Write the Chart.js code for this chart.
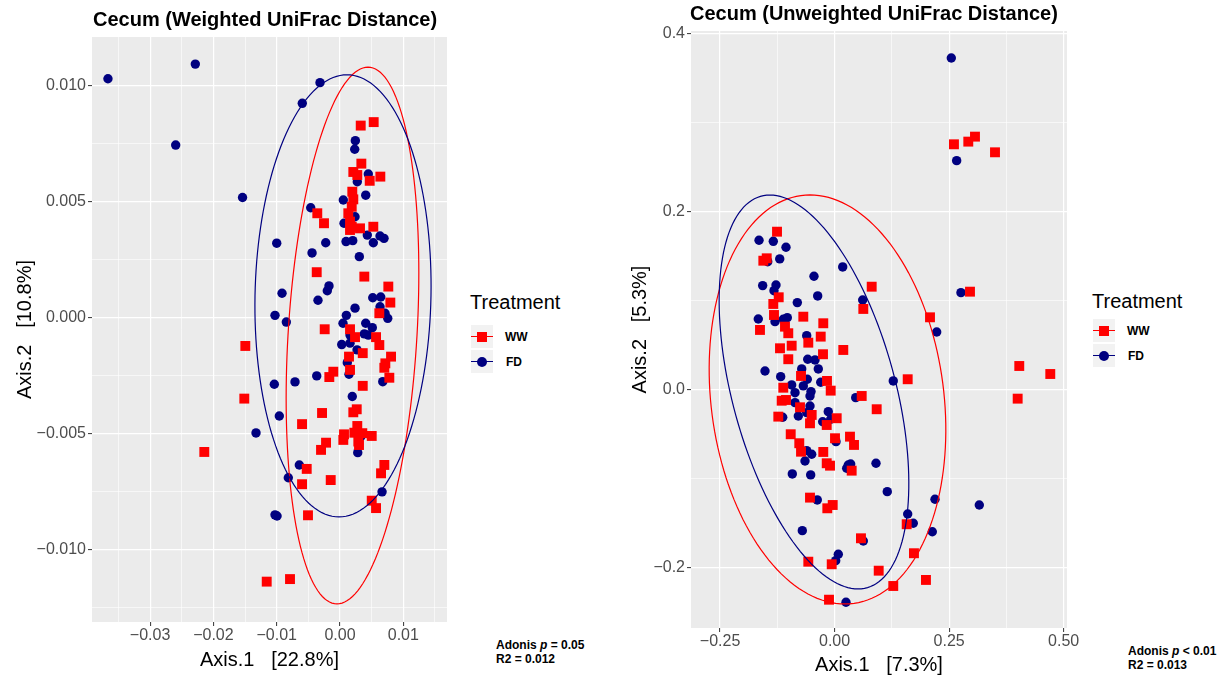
<!DOCTYPE html>
<html lang="en">
<head>
<meta charset="UTF-8">
<script src="https://cdn.jsdelivr.net/npm/chart.js"></script>
<style>
body { margin:0; background:#fff; width:1230px; height:681px; position:relative; overflow:hidden;
       font-family:"Liberation Sans", Arial, sans-serif; color:#000; }
canvas { position:absolute; top:0; }
.title { position:absolute; font-weight:bold; font-size:20px; line-height:20px; white-space:nowrap; }
.legtitle { position:absolute; font-size:20px; line-height:20px; white-space:nowrap; }
.key { position:absolute; width:22px; height:23px; background:#F2F2F2; }
.key .ln { position:absolute; left:0; right:0; top:11px; height:1.3px; }
.key .sq { position:absolute; left:6px; top:7px; width:10px; height:10px; background:#FF0000; }
.key .ci { position:absolute; left:6px; top:7px; width:10px; height:10px; border-radius:50%; background:#000080; }
.leglab { position:absolute; font-weight:bold; font-size:12px; line-height:12px; }
.note { position:absolute; font-weight:bold; font-size:12px; line-height:14px; white-space:nowrap; }
</style>
</head>
<body>
<canvas id="weighted" width="470" height="681" style="left:0"></canvas>
<canvas id="unweighted" width="500" height="681" style="left:590px"></canvas>

<div class="title" style="left:93px; top:9px">Cecum (Weighted UniFrac Distance)</div>
<div class="title" style="left:690px; top:3px">Cecum (Unweighted UniFrac Distance)</div>

<div class="legtitle" style="left:470px; top:292px">Treatment</div>
<div class="key" style="left:471px; top:325px"><div class="ln" style="background:#FF0000"></div><div class="sq"></div></div>
<div class="key" style="left:471px; top:350px"><div class="ln" style="background:#000080"></div><div class="ci"></div></div>
<div class="leglab" style="left:505px; top:331px">WW</div>
<div class="leglab" style="left:506px; top:356px">FD</div>

<div class="legtitle" style="left:1092px; top:291px">Treatment</div>
<div class="key" style="left:1093px; top:319px"><div class="ln" style="background:#FF0000"></div><div class="sq"></div></div>
<div class="key" style="left:1093px; top:344px"><div class="ln" style="background:#000080"></div><div class="ci"></div></div>
<div class="leglab" style="left:1127px; top:325px">WW</div>
<div class="leglab" style="left:1128px; top:350px">FD</div>

<div class="note" style="left:496px; top:638px">Adonis <i>p</i> = 0.05<br>R2 = 0.012</div>
<div class="note" style="left:1128px; top:644px">Adonis <i>p</i> &lt; 0.01<br>R2 = 0.013</div>

<script>
// ---- weighted UniFrac panel ----
const weightedWW_x = [-0.01496,-0.01512,-0.02144,-0.01158,-0.0079,0.00327,0.00532,0.00337,0.0021,0.00273,
  0.00469,0.00637,0.00194,0.0021,0.00185,-0.00359,-0.00253,0.00131,0.00158,0.00185,
  0.00158,0.00316,0.00526,-0.00368,0.00384,0.00763,0.00795,0.00621,-0.00242,0.00158,
  0.00237,0.00569,0.00621,0.00359,0.00142,0.00806,0.00716,0.007,-0.00106,-0.00169,
  0.00158,0.00779,0.00359,0.00264,0.0021,-0.00284,-0.006,0.00273,0.00063,0.00226,
  0.00352,0.00501,0.00052,0.00289,-0.00221,-0.003,0.003,-0.00526,0.007,0.00648,
  -0.006,-0.00147,0.00501,0.00569,-0.00506];
const weightedWW_y = [-0.00122,-0.00349,-0.00579,-0.01138,-0.01127,0.00828,0.00843,0.00664,0.00628,0.00615,
  0.0059,0.00608,0.00543,0.0051,0.00478,0.0045,0.00407,0.0045,0.00414,0.00392,
  0.00378,0.00385,0.00392,0.00196,0.00177,0.00134,0.00065,0.00019,-0.0005,-0.0005,
  -0.00084,-0.00084,-0.00118,-0.00153,-0.00168,-0.00168,-0.00197,-0.00216,-0.00233,-0.00256,
  -0.00225,-0.00259,-0.00294,-0.00395,-0.00408,-0.00411,-0.00459,-0.00467,-0.00503,-0.00496,
  -0.00498,-0.0051,-0.00527,-0.00534,-0.00539,-0.0057,-0.00549,-0.00652,-0.00635,-0.00671,
  -0.00718,-0.007,-0.00789,-0.00821,-0.00852];
const weightedFD_x = [-0.03666,-0.02286,-0.02596,-0.0154,-0.01327,-0.00316,-0.00596,0.00242,0.00232,0.00447,
  0.00273,0.00406,0.00052,-0.00463,0.00237,0.00063,0.00431,0.00632,0.00695,0.00526,
  -0.01,-0.00226,0.00095,0.00201,-0.00442,0.00305,-0.00174,-0.00201,-0.00916,-0.00348,
  0.00517,0.00643,0.00632,0.00237,0.00711,0.00754,-0.01027,-0.00848,0.001,0.00047,
  0.00406,0.0051,0.00158,0.00384,0.00447,0.00027,0.00158,0.00269,0.00115,-0.00368,
  0.00142,0.00675,-0.01038,-0.00711,0.00194,-0.00959,0.00327,0.0028,-0.00643,-0.00817,
  0.00664,-0.01027,-0.00995];
const weightedFD_y = [0.0103,0.01093,0.00744,0.00518,-0.00497,0.01013,0.00924,0.00763,0.00726,0.00619,
  0.00586,0.00528,0.00507,0.00474,0.00435,0.00407,0.00356,0.00352,0.00342,0.00323,
  0.00321,0.00323,0.00328,0.00332,0.00279,0.00263,0.00137,0.00116,0.00105,0.00075,
  0.00086,0.00089,0.00047,0.00041,0.00019,-0.00003,0.0001,-0.00019,0.0001,-0.00024,
  -0.00024,-0.00043,-0.00075,-0.0007,-0.00075,-0.00116,-0.0011,-0.00139,-0.00194,-0.00251,
  -0.00244,-0.00276,-0.00287,-0.00277,-0.0034,-0.00424,-0.00513,-0.00582,-0.00635,-0.0069,
  -0.00751,-0.0085,-0.00855];
// ellipse: centre x, centre y, conjugate semi-diameters (ax, ay) and (bx, by)
const weightedEllipseWW = [0.00197, -0.00077, 0.00245, 0.01157, 0.01019, 0];
const weightedEllipseFD = [0.00047, 0.00094, 0.00063, 0.00953, 0.0139, 0];
const weightedXRange = [-0.03918, 0.0169];
const weightedYRange = [-0.01312, 0.012099];
const weightedXMajor = [-0.03, -0.02, -0.01, 0, 0.01];
const weightedXMinor = [-0.035, -0.025, -0.015, -0.005, 0.005, 0.015];
const weightedXLabels = ['\u22120.03', '\u22120.02', '\u22120.01', '0.00', '0.01'];
const weightedYMajor = [-0.01, -0.005, 0, 0.005, 0.01];
const weightedYMinor = [-0.0125, -0.0075, -0.0025, 0.0025, 0.0075];
const weightedYLabels = ['\u22120.010', '\u22120.005', '0.000', '0.005', '0.010'];

// ---- unweighted UniFrac panel ----
const unweightedWW_x = [-0.1257,-0.1482,-0.1556,0.081,-0.122,-0.1338,0.0627,-0.1323,-0.0683,-0.0247,
  -0.1629,-0.1083,-0.1011,-0.0303,-0.0574,-0.0937,-0.1192,0.019,-0.0253,-0.1011,
  -0.0733,-0.0166,-0.112,-0.0085,0.0592,-0.1155,-0.1061,-0.0755,0.0919,-0.1229,
  -0.05,-0.0537,0.0046,-0.0172,-0.0958,0.0009,0.0336,0.0424,-0.0771,-0.0733,
  -0.0247,-0.0172,-0.01,0.0373,-0.0537,-0.0159,-0.0041,0.1574,0.0576,0.1733,
  -0.0574,-0.0063,0.0963,0.1995,0.1281,-0.0122,0.2606,0.2919,0.3065,0.3502,
  0.2956,0.2083,0.1596,0.4032,0.4709,0.3997];
const unweightedWW_y = [0.1775,0.1476,0.1449,0.1157,0.1038,0.0963,0.0907,0.0839,0.082,0.0746,
  0.0671,0.0708,0.0634,0.0596,0.0528,0.0494,0.0465,0.0446,0.0398,0.0342,
  0.0154,0.0098,0.0022,-0.0011,-0.0071,-0.0124,-0.0116,-0.0198,-0.022,-0.0303,
  -0.0284,-0.0378,-0.0321,-0.0397,-0.0501,-0.0546,-0.0528,-0.0621,-0.0602,-0.0697,
  -0.07,-0.0827,-0.0854,-0.091,-0.1213,-0.1333,-0.1296,-0.1512,-0.167,-0.1838,
  -0.1933,-0.1962,-0.2034,-0.2138,-0.2206,-0.236,0.2757,0.2787,0.2843,0.2667,
  0.1101,0.0813,0.0117,0.0266,0.0176,-0.0101];
const unweightedFD_x = [-0.165,-0.1338,-0.1061,-0.146,-0.1198,0.0177,-0.045,-0.157,-0.1279,-0.1323,
  -0.0369,-0.0814,0.0613,-0.1666,-0.1301,-0.112,-0.1033,-0.0609,-0.0587,-0.0428,
  -0.0356,-0.0718,-0.1519,-0.1177,-0.0596,0.1281,-0.0303,-0.0937,-0.0683,-0.0864,
  -0.0515,-0.0537,0.0461,-0.0864,-0.0537,-0.0138,-0.0609,-0.0792,-0.1133,-0.026,
  -0.0085,0.0031,-0.0609,-0.05,-0.0646,0.0299,0.0351,0.0904,0.0264,-0.0923,
  -0.0522,0.115,-0.0378,0.2192,0.1596,0.1718,0.2133,-0.0705,0.0627,0.0081,
  0.0024,0.0249,0.2548,0.2665,0.2759,0.2229,0.3159];
const unweightedFD_y = [0.1679,0.1667,0.16,0.1438,0.1469,0.1379,0.1274,0.1169,0.1176,0.1112,
  0.1053,0.0978,0.1008,0.0794,0.0764,0.0791,0.0809,0.0607,0.0342,0.0334,
  0.0233,0.0233,0.021,0.0146,0.0117,0.0098,0.0083,0.0053,0.0042,-0.0034,
  -0.0022,-0.0071,-0.009,-0.0146,-0.0183,-0.0247,-0.0258,-0.0296,-0.031,-0.036,
  -0.0333,-0.0584,-0.0685,-0.0726,-0.0801,-0.0846,-0.0835,-0.0827,-0.0883,-0.0947,
  -0.0958,-0.1146,-0.1239,-0.1231,-0.1397,-0.1501,-0.1596,-0.1584,-0.17,-0.1849,
  -0.1921,-0.2389,0.3727,0.2573,0.109,0.0648,-0.1296];
const unweightedEllipseWW = [-0.0155, -0.011, -0.0382, 0.2298, 0.2555, 0];
const unweightedEllipseFD = [-0.045, -0.0026, -0.0961, 0.2213, 0.1834, 0];
const unweightedXRange = [-0.3135, 0.5074];
const unweightedYRange = [-0.2678, 0.4030];
const unweightedXMajor = [-0.25, 0, 0.25, 0.5];
const unweightedXMinor = [-0.125, 0.125, 0.375];
const unweightedXLabels = ['\u22120.25', '0.00', '0.25', '0.50'];
const unweightedYMajor = [-0.2, 0, 0.2, 0.4];
const unweightedYMinor = [-0.1, 0.1, 0.3];
const unweightedYLabels = ['\u22120.2', '0.0', '0.2', '0.4'];

const RED = '#FF0000';
const NAVY = '#000080';
const FONT = '"Liberation Sans", Arial, sans-serif';

function zip(xs, ys) {
    return xs.map((v, i) => ({ x: v, y: ys[i] }));
}

function isIn(list, v) {
    return list.some(m => Math.abs(m - v) < 1e-9);
}

const panelBg = {
    id: 'panelBg',
    beforeDraw(chart) {
        const a = chart.chartArea;
        chart.ctx.save();
        chart.ctx.fillStyle = '#EBEBEB';
        chart.ctx.fillRect(a.left, a.top, a.right - a.left, a.bottom - a.top);
        chart.ctx.restore();
    }
};

const ellipses = {
    id: 'ellipses',
    afterDatasetsDraw(chart, args, opts) {
        const { ctx, chartArea: a, scales: { x, y } } = chart;
        ctx.save();
        ctx.beginPath();
        ctx.rect(a.left, a.top, a.right - a.left, a.bottom - a.top);
        ctx.clip();
        opts.list.forEach(e => {
            const [cx, cy, ax, ay, bx, by] = e.p;
            ctx.beginPath();
            for (let i = 0; i <= 160; i++) {
                const t = i / 160 * 2 * Math.PI;
                const px = x.getPixelForValue(cx + ax * Math.sin(t) + bx * Math.cos(t));
                const py = y.getPixelForValue(cy + ay * Math.sin(t) + by * Math.cos(t));
                if (i === 0) ctx.moveTo(px, py); else ctx.lineTo(px, py);
            }
            ctx.closePath();
            ctx.strokeStyle = e.color;
            ctx.lineWidth = 1.2;
            ctx.stroke();
        });
        ctx.restore();
    }
};

function axis(range, major, minor, labels, cfg) {
    return {
        type: 'linear',
        position: cfg.position,
        min: range[0],
        max: range[1],
        afterBuildTicks(s) {
            s.ticks = major.concat(minor).sort((a, b) => a - b).map(v => ({ value: v }));
        },
        afterFit(s) {
            if (cfg.position === 'left') s.width = cfg.size; else s.height = cfg.size;
        },
        ticks: {
            autoSkip: false,
            maxRotation: 0,
            padding: cfg.tickPad,
            color: '#4D4D4D',
            font: { family: FONT, size: 16 },
            callback(v) {
                const i = major.findIndex(m => Math.abs(m - v) < 1e-9);
                return i < 0 ? '' : labels[i];
            }
        },
        grid: {
            color: '#FFFFFF',
            lineWidth: c => isIn(major, c.tick.value) ? 1.2 : 0.6,
            tickLength: 4,
            tickWidth: 1,
            tickColor: c => isIn(major, c.tick.value) ? '#333333' : 'rgba(0,0,0,0)'
        },
        border: { display: false },
        title: {
            display: true,
            text: cfg.title,
            color: '#000',
            font: { family: FONT, size: 20 },
            padding: cfg.titlePad
        }
    };
}

function panel(id, ww, fd, ellWW, ellFD, xAxis, yAxis, pad) {
    new Chart(document.getElementById(id), {
        type: 'scatter',
        data: {
            datasets: [
                { label: 'WW', data: ww, pointStyle: 'rect', pointRadius: 7, pointHoverRadius: 7,
                  pointBackgroundColor: RED, pointBorderWidth: 0, pointBorderColor: RED },
                { label: 'FD', data: fd, pointStyle: 'circle', pointRadius: 4.7, pointHoverRadius: 4.7,
                  pointBackgroundColor: NAVY, pointBorderWidth: 0, pointBorderColor: NAVY }
            ]
        },
        options: {
            responsive: false,
            animation: false,
            events: [],
            layout: { padding: pad },
            plugins: {
                legend: { display: false },
                tooltip: { enabled: false },
                ellipses: { list: [{ p: ellWW, color: RED }, { p: ellFD, color: NAVY }] }
            },
            scales: { x: xAxis, y: yAxis }
        },
        plugins: [panelBg, ellipses]
    });
}

panel('weighted',
    zip(weightedWW_x, weightedWW_y), zip(weightedFD_x, weightedFD_y),
    weightedEllipseWW, weightedEllipseFD,
    axis(weightedXRange, weightedXMajor, weightedXMinor, weightedXLabels,
        { position: 'bottom', size: 59, tickPad: 0, title: 'Axis.1   [22.8%]', titlePad: { top: 0, bottom: 9 } }),
    axis(weightedYRange, weightedYMajor, weightedYMinor, weightedYLabels,
        { position: 'left', size: 92, tickPad: 2, title: 'Axis.2   [10.8%]', titlePad: { top: 13, bottom: 0 } }),
    { top: 37, right: 23, left: 0, bottom: 0 });

panel('unweighted',
    zip(unweightedWW_x, unweightedWW_y), zip(unweightedFD_x, unweightedFD_y),
    unweightedEllipseWW, unweightedEllipseFD,
    axis(unweightedXRange, unweightedXMajor, unweightedXMinor, unweightedXLabels,
        { position: 'bottom', size: 53, tickPad: 0, title: 'Axis.1   [7.3%]', titlePad: { top: 0, bottom: 4 } }),
    axis(unweightedYRange, unweightedYMajor, unweightedYMinor, unweightedYLabels,
        { position: 'left', size: 101, tickPad: 2, title: 'Axis.2   [5.3%]', titlePad: { top: 38, bottom: 0 } }),
    { top: 31, right: 23, left: 0, bottom: 0 });
</script>
</body>
</html>
